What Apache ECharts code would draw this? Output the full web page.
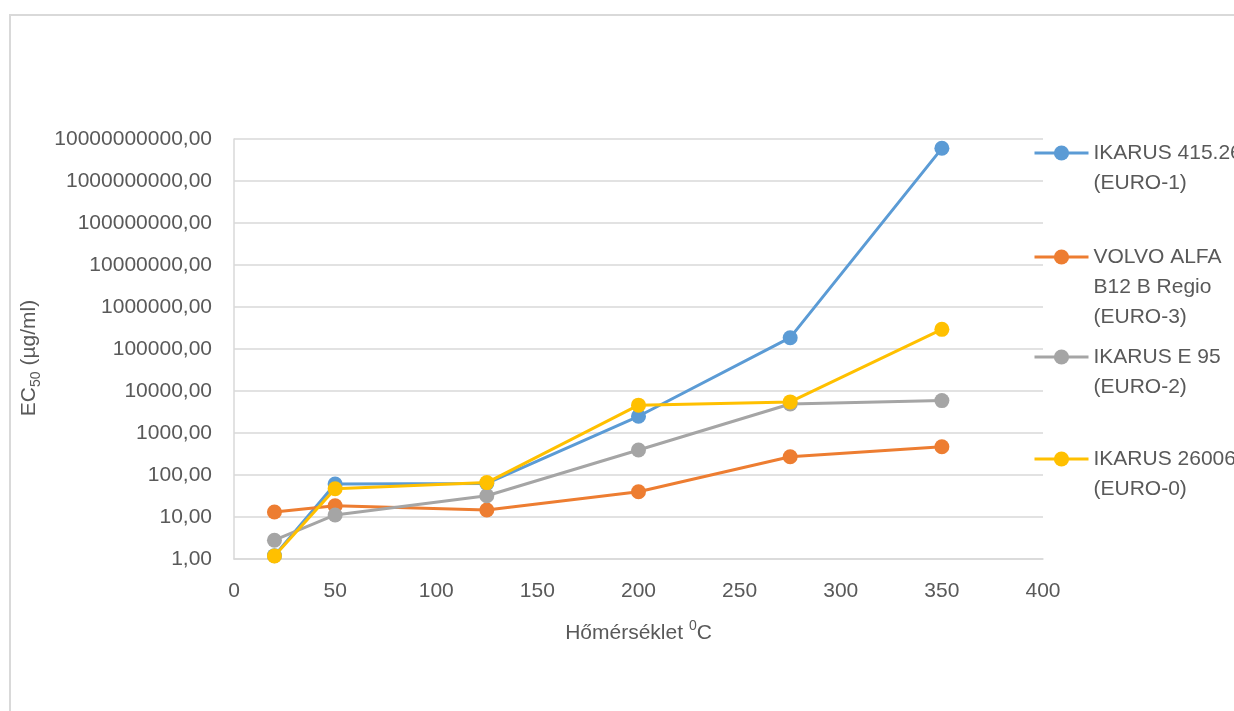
<!DOCTYPE html>
<html>
<head>
<meta charset="utf-8">
<script src="https://cdn.jsdelivr.net/npm/echarts@6/dist/echarts.min.js"></script>
<style>
  html, body { margin: 0; padding: 0; background: #ffffff; }
  #chart { width: 1234px; height: 711px; }
</style>
</head>
<body>
<div id="chart"></div>
<script>
// Temperatures (°C) at which EC50 was measured
const temperatures = [20, 50, 125, 200, 275, 350];

// EC50 values (µg/ml) per bus exhaust sample
const ikarus41526 = [1.2, 61, 63, 2500, 186000, 6.0e9];
const volvoAlfa = [13.2, 18.6, 14.7, 40, 273, 472];
const ikarusE95 = [2.8, 11.2, 32, 394, 4900, 5900];
const ikarus26006 = [1.18, 47, 66, 4600, 5500, 294000];

const seriesNames = [
  'IKARUS 415.26 (EURO-1)',
  'VOLVO ALFA B12 B Regio (EURO-3)',
  'IKARUS E 95 (EURO-2)',
  'IKARUS 26006 (EURO-0)'
];
const legendLines = [
  ['IKARUS 415.26', '(EURO-1)'],
  ['VOLVO ALFA', 'B12 B Regio', '(EURO-3)'],
  ['IKARUS E 95', '(EURO-2)'],
  ['IKARUS 26006', '(EURO-0)']
];
const seriesValues = [ikarus41526, volvoAlfa, ikarusE95, ikarus26006];
const seriesColors = ['#5b9bd5', '#ed7d31', '#a5a5a5', '#ffc000'];

// Y tick labels, one per decade from 10^0 to 10^10
const yTickLabels = [
  '1,00', '10,00', '100,00', '1000,00', '10000,00', '100000,00',
  '1000000,00', '10000000,00', '100000000,00', '1000000000,00', '10000000000,00'
];

const FONT = '"Liberation Sans", Arial, sans-serif';
const TEXT_COLOR = '#595959';
const GRID_COLOR = '#d9d9d9';
const LEGEND_LINE_H = 30;
const legendIconY = [153, 257, 357, 459];

const chart = echarts.init(document.getElementById('chart'), null, { renderer: 'canvas' });

const series = seriesNames.map((name, i) => ({
  name: name,
  type: 'line',
  data: temperatures.map((t, j) => [t, seriesValues[i][j]]),
  symbol: 'circle',
  symbolSize: 15,
  color: seriesColors[i],
  lineStyle: { width: 3, color: seriesColors[i] },
  itemStyle: { color: seriesColors[i] },
  emphasis: { disabled: true },
  animation: false,
  z: 2 + i
}));

// One legend block per series; leading blank lines keep the icon level
// with the first text line (the text block is centred on the icon).
const legends = seriesNames.map((name, i) => {
  const n = legendLines[i].length;
  const blockH = (2 * n - 1) * LEGEND_LINE_H;
  return {
    show: true,
    data: [name],
    left: 1033,
    top: legendIconY[i] - blockH / 2,
    padding: 0,
    itemWidth: 54,
    itemHeight: 19,
    selectedMode: false,
    lineStyle: { width: 3 },
    formatter: () => '\n'.repeat(n - 1) + legendLines[i].join('\n'),
    textStyle: {
      fontFamily: FONT,
      fontSize: 21,
      color: TEXT_COLOR,
      lineHeight: LEGEND_LINE_H
    }
  };
});

const option = {
  backgroundColor: '#ffffff',
  animation: false,
  textStyle: { fontFamily: FONT },
  graphic: [{
    type: 'rect',
    shape: { x: 10, y: 15, width: 1400, height: 900 },
    style: { fill: 'none', stroke: GRID_COLOR, lineWidth: 2 },
    silent: true,
    z: 0
  }],
  grid: {
    left: 234,
    right: 191,
    top: 139,
    bottom: 152,
    containLabel: false
  },
  legend: legends,
  xAxis: {
    type: 'value',
    min: 0,
    max: 400,
    interval: 50,
    name: '{a|Hőmérséklet }{sup|0}{a|C}',
    nameLocation: 'middle',
    nameGap: 60,
    nameTextStyle: {
      rich: {
        a: { fontFamily: FONT, fontSize: 21, color: TEXT_COLOR, lineHeight: 28 },
        sup: { fontFamily: FONT, fontSize: 14, color: TEXT_COLOR, verticalAlign: 'top' }
      }
    },
    axisLine: { show: true, lineStyle: { color: GRID_COLOR, width: 1.5 } },
    axisTick: { show: false },
    splitLine: { show: false },
    axisLabel: {
      margin: 22,
      fontFamily: FONT,
      fontSize: 21,
      color: TEXT_COLOR
    }
  },
  yAxis: {
    type: 'log',
    logBase: 10,
    min: 1,
    max: 1e10,
    interval: 1,
    name: '{a|EC}{sub|50}{a| (µg/ml)}',
    nameLocation: 'middle',
    nameGap: 178,
    nameTextStyle: {
      padding: [0, 18, 0, 0],
      rich: {
        a: { fontFamily: FONT, fontSize: 21, color: TEXT_COLOR, lineHeight: 28 },
        sub: { fontFamily: FONT, fontSize: 14, color: TEXT_COLOR, verticalAlign: 'bottom' }
      }
    },
    axisLine: { show: true, lineStyle: { color: GRID_COLOR, width: 1.5 } },
    axisTick: { show: false },
    splitLine: { show: true, lineStyle: { color: GRID_COLOR, width: 1.5 } },
    axisLabel: {
      margin: 22,
      fontFamily: FONT,
      fontSize: 21,
      color: TEXT_COLOR,
      formatter: (v) => yTickLabels[Math.round(Math.log10(v))]
    }
  },
  series: series
};

chart.setOption(option);
</script>
</body>
</html>
